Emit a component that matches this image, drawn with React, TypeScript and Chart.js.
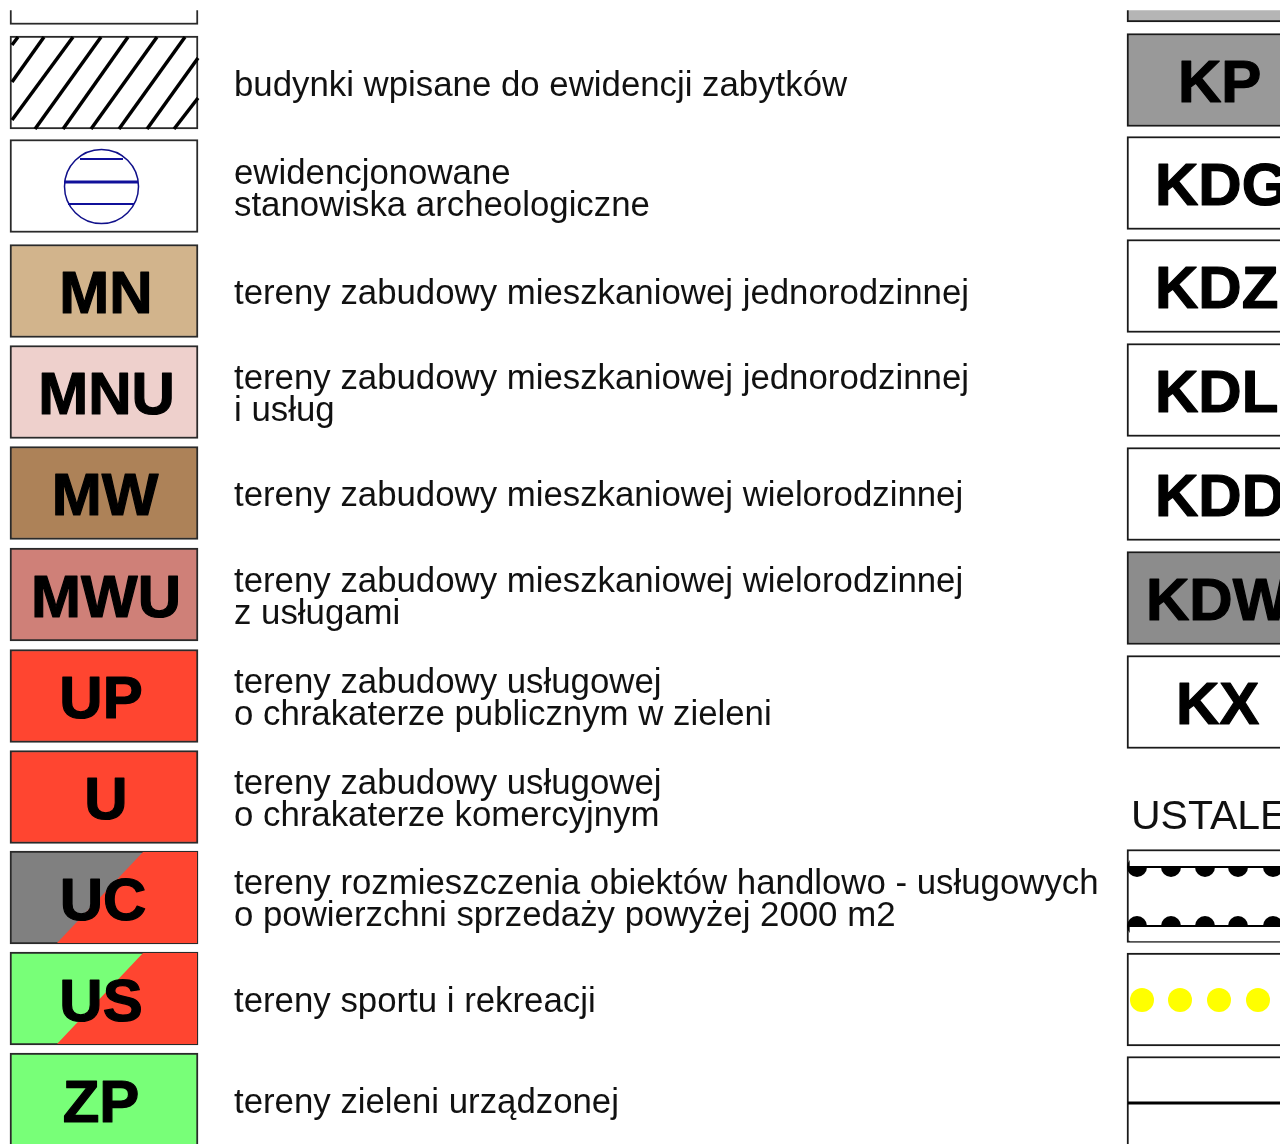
import React, { useEffect, useRef } from "react";
import { Chart, registerables } from "chart.js";

Chart.register(...registerables);

// ---- Data (values are sheet units on the y/x scales) ----
const leftCodes = ["", "", "", "MN", "MNU", "MW", "MWU", "UP", "U", "UC", "US", "ZP"];
const leftRows = [-22, 82.5, 186, 291, 392, 493, 594.5, 696, 797, 897.5, 998.5, 1099.5];
const leftDescriptions = [
  [],
  ["budynki wpisane do ewidencji zabytków"],
  ["ewidencjonowane", "stanowiska archeologiczne"],
  ["tereny zabudowy mieszkaniowej jednorodzinnej"],
  ["tereny zabudowy mieszkaniowej jednorodzinnej", "i usług"],
  ["tereny zabudowy mieszkaniowej wielorodzinnej"],
  ["tereny zabudowy mieszkaniowej wielorodzinnej", "z usługami"],
  ["tereny zabudowy usługowej", "o chrakaterze publicznym w zieleni"],
  ["tereny zabudowy usługowej", "o chrakaterze komercyjnym"],
  ["tereny rozmieszczenia obiektów handlowo - usługowych", "o powierzchni sprzedaży powyżej 2000 m2"],
  ["tereny sportu i rekreacji"],
  ["tereny zieleni urządzonej"],
];
const rightCodes = ["", "KP", "KDG", "KDZ", "KDL", "KDD", "KDW", "KX", "", "", ""];
const rightRows = [-24.5, 80, 183, 286, 390, 494, 598, 702, 896, 999.5, 1103];
const sectionHeading = "USTALENIA";

const hatchX = [[12, 18], [12, 44], [12, 73], [35, 101], [63, 128], [91, 157], [119, 185], [147, 198], [174, 198]];
const hatchY = [[45, 37], [82, 37], [120, 37], [129, 37], [129, 37], [129, 37], [129, 37], [129, 58], [129, 98]];
const globeLinesX = [[80, 123], [64, 138], [68, 134]];
const globeLinesY = [159, 182, 204];
const blackDotsX = [1137, 1171, 1205, 1238, 1273];
const blackLinesY = [867, 926];
const yellowDotsX = [1142, 1180, 1219, 1258];
const ucDiagonalX = [57, 143, 197];
const ucDiagonalY = [943, 852, 852];
const usDiagonalX = [57, 143, 197];
const usDiagonalY = [1044, 953, 953];

// ---- Styles ----
const leftFill = ["#ffffff", "#ffffff", "#ffffff", "#d2b48c", "#eed0cc", "#ad8258", "#cf8078", "#ff4530", "#ff4530", "#808080", "#78ff78", "#78ff78"];
const rightFill = ["#b5b5b5", "#999999", "#ffffff", "#ffffff", "#ffffff", "#ffffff", "#8c8c8c", "#ffffff", "#ffffff", "#ffffff", "#ffffff"];
const leftCodeCentre = [0, 0, 0, 106, 106.5, 105, 106, 101, 106, 103, 101, 101];
const rightCodeLeft = [0, 1178, 1155, 1155, 1155, 1155, 1146, 1176, 0, 0, 0];
const descriptionShift = [0, 0, -1, 0, -2, 0, -1, -2, -2, -2, 0, 0];
const FONT = '"Liberation Sans", Arial, sans-serif';
const INK = "#000000";

const legendText = {
  id: "legendText",
  afterDatasetsDraw(chart: any) {
    const { ctx, scales } = chart;
    const sx = (v: number) => scales.x.getPixelForValue(v);
    const sy = (v: number) => scales.y.getPixelForValue(v);
    ctx.save();
    ctx.fillStyle = INK;
    ctx.strokeStyle = INK;
    ctx.lineWidth = 1.2;
    ctx.lineJoin = "round";
    ctx.textBaseline = "alphabetic";
    ctx.font = `bold 60px ${FONT}`;
    ctx.textAlign = "center";
    leftCodes.forEach((c, i) => {
      if (!c) return;
      ctx.fillText(c, sx(leftCodeCentre[i]), sy(leftRows[i] + 22));
      ctx.strokeText(c, sx(leftCodeCentre[i]), sy(leftRows[i] + 22));
    });
    ctx.textAlign = "left";
    rightCodes.forEach((c, i) => {
      if (!c) return;
      ctx.fillText(c, sx(rightCodeLeft[i]), sy(rightRows[i] + 22));
      ctx.strokeText(c, sx(rightCodeLeft[i]), sy(rightRows[i] + 22));
    });
    ctx.fillStyle = "#111111";
    ctx.font = `34.8px ${FONT}`;
    leftDescriptions.forEach((lines, i) => {
      const shift = descriptionShift[i];
      if (lines.length === 1) ctx.fillText(lines[0], sx(234), sy(leftRows[i] + 13 + shift));
      if (lines.length === 2) {
        ctx.fillText(lines[0], sx(234), sy(leftRows[i] - 1.5 + shift));
        ctx.fillText(lines[1], sx(234), sy(leftRows[i] + 30.5 + shift));
      }
    });
    ctx.font = `41px ${FONT}`;
    ctx.fillText(sectionHeading, sx(1131), sy(829));
    ctx.restore();
  },
};

const swatch = (xFrom: number, xTo: number, rows: number[], fill: string[], border: string, order: number) => ({
  type: "bar",
  indexAxis: "y",
  grouped: false,
  order,
  barThickness: 93,
  data: rows.map((y) => ({ x: [xFrom, xTo], y })),
  backgroundColor: fill,
  borderColor: border,
  borderWidth: 2,
  borderSkipped: false,
});

const mask = (xFrom: number, xTo: number, rows: number[], thickness: number, order: number) => ({
  type: "bar",
  indexAxis: "y",
  grouped: false,
  order,
  barThickness: thickness,
  data: rows.map((y) => ({ x: [xFrom, xTo], y })),
  backgroundColor: "#ffffff",
  borderWidth: 0,
});

const line = (xs: number[], ys: number[], colour: string, width: number, order: number, extra: any = {}) => ({
  type: "line",
  order,
  data: xs.map((x, i) => ({ x, y: ys[i] })),
  borderColor: colour,
  borderWidth: width,
  pointRadius: 0,
  tension: 0,
  fill: false,
  ...extra,
});

const dots = (xs: number[], y: number, colour: string, radius: number, order: number) => ({
  type: "scatter",
  order,
  data: xs.map((x) => ({ x, y })),
  pointRadius: radius,
  pointBackgroundColor: colour,
  pointBorderWidth: 0,
  showLine: false,
});

export default function App() {
  const ref = useRef<HTMLCanvasElement | null>(null);
  useEffect(() => {
    if (!ref.current) return;
    const datasets: any[] = [
      // lowest layer first; higher order is painted earlier
      swatch(10, 198, leftRows, leftFill, "#2a2a2a", 100),
      swatch(1127, 1290, rightRows, rightFill, "#1a1a1a", 100),
      mask(0, 210, [-36.5], 93, 90),
      mask(1120, 1290, [-36.5], 93, 90),
      line(ucDiagonalX, ucDiagonalY, "#ff4530", 0, 80, { fill: { value: 943 }, backgroundColor: "#ff4530" }),
      line(usDiagonalX, usDiagonalY, "#ff4530", 0, 80, { fill: { value: 1044 }, backgroundColor: "#ff4530" }),
      ...hatchX.map((xs, i) => line(xs, hatchY[i], "#000000", 3.5, 70)),
      ...globeLinesX.map((xs, i) =>
        line(xs, [globeLinesY[i], globeLinesY[i]], "#10109a", i === 1 ? 3 : 2, 70)
      ),
      {
        type: "scatter",
        order: 70,
        data: [{ x: 101.5, y: 186.5 }],
        pointRadius: 37,
        pointBackgroundColor: "transparent",
        pointBorderColor: "#10108a",
        pointBorderWidth: 1.5,
      },
      ...blackLinesY.map((y) => dots(blackDotsX, y, "#000000", 10, 60)),
      mask(1130, 1290, [859.5], 14, 50),
      mask(1130, 1290, [934], 14, 50),
      ...blackLinesY.map((y) => line([1128, 1290], [y, y], "#000000", 2, 40)),
      dots(yellowDotsX, 1000, "#ffff00", 12, 40),
      line([1128, 1290], [1103, 1103], "#000000", 3, 40),
    ];
    const chart = new Chart(ref.current, {
      type: "bar",
      data: { datasets },
      plugins: [legendText],
      options: {
        responsive: false,
        animation: false,
        layout: { padding: 0, autoPadding: false },
        plugins: { legend: { display: false }, tooltip: { enabled: false }, title: { display: false } },
        scales: {
          x: { type: "linear", min: 0, max: 1280, offset: false, display: false },
          y: { type: "linear", min: 0, max: 1144, offset: false, reverse: true, display: false },
        },
      },
    } as any);
    return () => chart.destroy();
  }, []);
  return (
    <canvas
      ref={ref}
      width={1280}
      height={1144}
      style={{ position: "absolute", left: 0, top: 0, display: "block", background: "#ffffff" }}
    />
  );
}
